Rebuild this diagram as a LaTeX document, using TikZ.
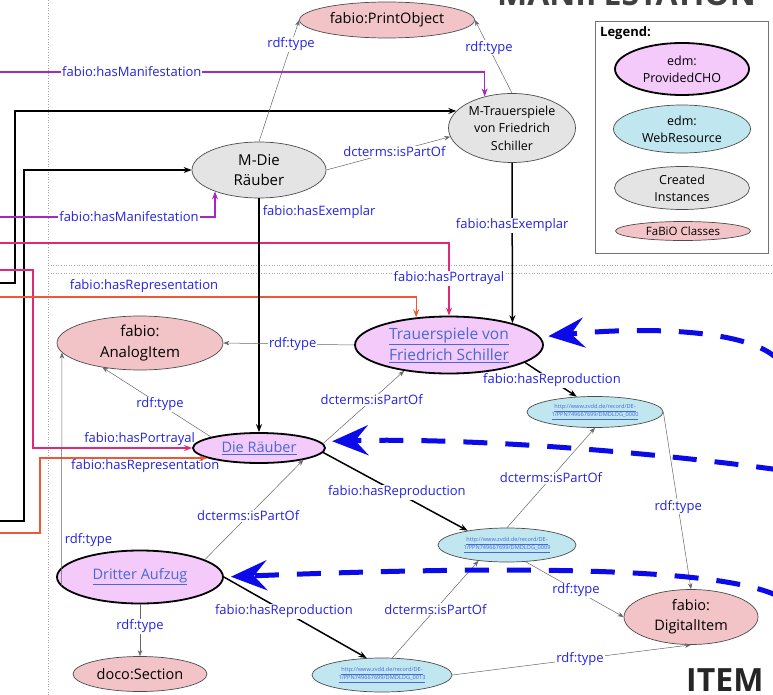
\documentclass[tikz,border=0pt]{standalone}
\usepackage{fontspec}
\setmainfont{Open Sans}
\usetikzlibrary{shapes.geometric, arrows.meta}

\definecolor{clsfill}{RGB}{242,196,200}
\definecolor{madefill}{RGB}{228,228,228}
\definecolor{chofill}{RGB}{243,202,250}
\definecolor{webfill}{RGB}{192,230,240}
\definecolor{linkcol}{RGB}{70,105,215}
\definecolor{lblcol}{RGB}{35,35,225}
\definecolor{manicol}{RGB}{165,40,195}
\definecolor{portcol}{RGB}{225,40,120}
\definecolor{reprcol}{RGB}{238,88,50}
\definecolor{backcol}{RGB}{10,10,235}

\begin{document}
\begin{tikzpicture}[x = 1pt, y = -1pt,
    every node/.style = {font = \fontsize{14.5}{20}\selectfont},
    ell/.style = {shape = ellipse, draw = black!70, line width = 0.7pt, inner sep = 0pt, align = center},
    cls/.style = {ell, fill = clsfill},
    made/.style = {ell, fill = madefill},
    cho/.style = {ell, fill = chofill, draw = black, line width = 1.8pt, text = linkcol},
    web/.style = {ell, fill = webfill, text = linkcol, font = \fontsize{5.6}{8}\selectfont},
    lgnd/.style = {font = \fontsize{12.5}{17}\selectfont},
    lbl/.style = {fill = white, text = lblcol, inner sep = 1pt, font = \fontsize{13}{15}\selectfont},
    sep/.style = {draw = black!35, line width = 0.6pt, dotted},
    typ/.style = {draw = black!60, line width = 0.5pt, -{Stealth[length = 6pt, width = 4.5pt]}},
    hard/.style = {draw = black, line width = 1.5pt, -{Stealth[length = 8pt, width = 6pt]}},
    mani/.style = {draw = manicol, line width = 1.2pt, -{Stealth[length = 8pt, width = 6pt]}},
    port/.style = {draw = portcol, line width = 1.2pt, -{Stealth[length = 8pt, width = 6pt]}},
    repr/.style = {draw = reprcol, line width = 1.2pt, -{Stealth[length = 8pt, width = 6pt]}},
    feed/.style = {draw = black, line width = 1.2pt, -{Stealth[length = 8pt, width = 6pt]}},
    back/.style = {draw = backcol, line width = 5pt, dash pattern = on 24pt off 18pt,
        -{Stealth[length = 36pt, width = 30pt, inset = 13pt]}},
    big/.style = {font = \bfseries\fontsize{32}{36}\selectfont, text = black!85, inner sep = 0pt}]

    \useasboundingbox (0,0) rectangle (773,695);
    \clip (0,0) rectangle (773,695);

    \draw[sep] (48,0) -- (48,695);
    \draw[sep] (48,265) -- (773,265);
    \draw[sep] (48,273) -- (773,273);

    \node[big, anchor = base west, text = black!75] (manif) at (497,6) {MANIFESTATION};
    \node[big, anchor = base west] (item) at (686,691) {ITEM};

    \node[draw = black!55, line width = 0.8pt, minimum width = 173pt, minimum height = 232pt, inner sep = 0pt] (lgd) at (681.5,137) {};
    \node[anchor = base west, inner sep = 0pt, font = \bfseries\fontsize{13}{15}\selectfont] (lgdtitle) at (600,37) {Legend:};
    \node[cho, lgnd, text = black, minimum width = 134pt, minimum height = 52pt] (lgcho) at (682,69) {edm:\\ProvidedCHO};
    \node[ell, lgnd, fill = webfill, minimum width = 137pt, minimum height = 48pt] (lgweb) at (682,129) {edm:\\WebResource};
    \node[made, lgnd, minimum width = 135pt, minimum height = 43pt] (lgmade) at (682,188) {Created\\Instances};
    \node[cls, font = \fontsize{11.5}{14}\selectfont, minimum width = 135pt, minimum height = 19pt] (lgcls) at (683,231) {FaBiO Classes};

    \node[cls, minimum width = 175pt, minimum height = 36pt] (po) at (387,20) {fabio:PrintObject};
    \node[made, minimum width = 127pt, minimum height = 69pt, font = \fontsize{12.5}{17.5}\selectfont] (mts) at (512,128) {M-Trauerspiele\\von Friedrich\\Schiller};
    \node[made, minimum width = 134pt, minimum height = 56pt, font = \fontsize{15}{20}\selectfont] (mdr) at (259,170) {M-Die\\Räuber};
    \node[cho, minimum width = 188pt, minimum height = 57pt, font = \fontsize{15.5}{21}\selectfont] (ts) at (449,345) {\underline{Trauerspiele von}\\\underline{Friedrich Schiller}};
    \node[cls, minimum width = 166pt, minimum height = 54pt, font = \fontsize{15}{21}\selectfont] (ai) at (140,343) {fabio:\\AnalogItem};
    \node[cho, minimum width = 132pt, minimum height = 30pt] (dr) at (259,448) {\underline{Die Räuber}};
    \node[web, minimum width = 136pt, minimum height = 31pt] (u0) at (595,412) {\underline{http://www.zvdd.de/record/DE-}\\\underline{1/PPN749667699/DMDLOG\_0000}};
    \node[web, minimum width = 138pt, minimum height = 34pt] (u9) at (507,545) {\underline{http://www.zvdd.de/record/DE-}\\\underline{1/PPN749667699/DMDLOG\_0009}};
    \node[web, minimum width = 140pt, minimum height = 34pt] (u13) at (382,675) {\underline{http://www.zvdd.de/record/DE-}\\\underline{1/PPN749667699/DMDLOG\_0013}};
    \node[cho, minimum width = 166pt, minimum height = 53pt] (da) at (140,577) {\underline{Dritter Aufzug}};
    \node[cls, minimum width = 134pt, minimum height = 35pt] (ds) at (140,674) {doco:Section};
    \node[cls, minimum width = 134pt, minimum height = 55pt] (di) at (691,617) {fabio:\\DigitalItem};

    \coordinate (m1) at (0,72);
    \coordinate (m2) at (0,217);
    \coordinate (k1) at (0,283);
    \coordinate (k2) at (0,521);
    \coordinate (p1) at (0,243);
    \coordinate (p2) at (0,270);
    \coordinate (o1) at (0,297);
    \coordinate (o2) at (0,533);

    \draw[feed] (k1) -- ++(15,0) |- (mts.163);
    \draw[feed] (k2) -- ++(24,0) |- (mdr.west);
    \draw[mani] (m1) -| node[lbl, pos = 0.136] {fabio:hasManifestation} (mts.131);
    \draw[mani] (m2) -| node[lbl, pos = 0.3] {fabio:hasManifestation} (mdr.206);
    \draw[port] (p1) -| node[lbl, pos = 0.745] {fabio:hasPortrayal} (ts.north);
    \draw[port] (p2) -- ++(33,0) |- node[lbl, pos = 0.835, above, fill = none, yshift = 1pt] {fabio:hasPortrayal} (dr.west);
    \draw[repr] (o1) -| node[lbl, pos = 0.173, above, fill = none, yshift = 3pt] {fabio:hasRepresentation} (ts.140);
    \draw[repr] (o2) -- ++(40,0) |- node[lbl, pos = 0.815, below, fill = none] {fabio:hasRepresentation} (dr.191);

    \draw[typ] (mdr.north) -- node[lbl, pos = 0.8] {rdf:type} (po.west);
    \draw[typ] (mts.north) -- node[lbl, pos = 0.62] {rdf:type} (po.east);
    \draw[typ] (mdr.east) -- node[lbl, pos = 0.55] {dcterms:isPartOf} (mts.188);
    \draw[hard] (mts.south) -- node[lbl, pos = 0.39] {fabio:hasExemplar} (ts.19);
    \draw[hard] (mdr.south) -- node[lbl, pos = 0.06, anchor = west, xshift = 2pt] {fabio:hasExemplar} (dr.north);

    \draw[typ] (ts.west) -- node[lbl, pos = 0.47] {rdf:type} (ai.east);
    \draw[typ] (dr.167) -- node[lbl, pos = 0.47] {rdf:type} (ai.213);
    \draw[typ] (dr.4) -- node[lbl, pos = 0.6] {dcterms:isPartOf} (ts.210);
    \draw[hard] (ts.-13) -- node[lbl, pos = 0.52] {fabio:hasReproduction} (u0.140);
    \draw[hard] (dr.-4) -- node[lbl, pos = 0.51] {fabio:hasReproduction} (u9.160);
    \draw[typ] (u9.north) -- node[lbl, pos = 0.5] {dcterms:isPartOf} (u0.south);
    \draw[typ] (u0.east) -- node[lbl, pos = 0.535] {rdf:type} (di.north);
    \draw[typ] (u9.-42) -- node[lbl, pos = 0.515] {rdf:type} (di.west);
    \draw[typ] (u13.east) -- node[lbl, pos = 0.535] {rdf:type} (di.south);
    \draw[typ] (u13.59) -- node[lbl, pos = 0.5] {dcterms:isPartOf} (u9.209);
    \draw[hard] (da.east) -- node[lbl, pos = 0.42] {fabio:hasReproduction} (u13.132);
    \draw[typ] (da.15) -- node[lbl, pos = 0.44] {dcterms:isPartOf} (dr.-15);
    \draw[typ] (da.187) -- node[lbl, pos = 0.2, anchor = west, xshift = 2pt] {rdf:type} (ai.187);
    \draw[typ] (da.south) -- node[lbl, pos = 0.42] {rdf:type} (ds.north);

    \coordinate (b1) at (780,362);
    \coordinate (b2) at (780,470);
    \coordinate (b3) at (780,597);
    \draw[back, shorten > = 8pt] (b1) .. controls (755,330) and (650,326) .. (ts.5);
    \draw[back, shorten > = 12pt] (b2) .. controls (620,448) and (450,438) .. (dr.6);
    \draw[back, shorten > = 7pt] (b3) .. controls (720,566) and (500,566) .. (da.east);
\end{tikzpicture}
\end{document}
